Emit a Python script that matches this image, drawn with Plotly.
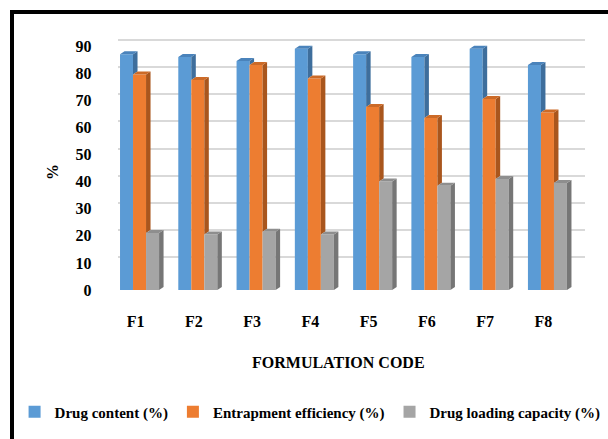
import plotly.graph_objects as go

# ---- data -------------------------------------------------------------
formulations = ["F1", "F2", "F3", "F4", "F5", "F6", "F7", "F8"]
drug_content = [87, 86, 84.5, 89, 87, 86, 89, 83]
entrapment_efficiency = [79.5, 77.5, 83, 78, 67.5, 63.5, 70.5, 65.5]
drug_loading_capacity = [21, 20.5, 21.5, 20.5, 40, 38.5, 41, 39.5]
series_names = ["Drug content (%)", "Entrapment efficiency (%)", "Drug loading capacity (%)"]
y_ticks = [0, 10, 20, 30, 40, 50, 60, 70, 80, 90]

# ---- styling ----------------------------------------------------------
W, H = 608, 439
FONT = "'Liberation Serif', 'Times New Roman', Times, serif"
front_colors = ["#5B9BD5", "#ED7D31", "#A5A5A5"]
side_colors = ["#3E6E9C", "#A9561D", "#767676"]
top_colors = ["#4A83BB", "#CC6A27", "#8E8E8E"]

series = [drug_content, entrapment_efficiency, drug_loading_capacity]
idx = list(range(len(formulations)))

# pixel layout of the front (bars) plane and the back wall (gridlines)
px_per_unit_y = 2.71
front_bottom, back_bottom = 290, 284
front_left, front_right = 110.4, 576.6
back_left, back_right = 118, 585
y_max = 95

def fx(p):
    return p / W

def fy(p):
    return 1 - p / H

px_per_cat = (front_right - front_left) / len(formulations)
bar_w = 0.67 / 3
depth_dx = 4.5 / px_per_cat          # side depth in category units
depth_dy = 3.0 / px_per_unit_y       # side depth in value units

fig = go.Figure()

# front faces
for k, (name, vals) in enumerate(zip(series_names, series)):
    fig.add_trace(go.Bar(
        x=idx, y=vals, name=name, width=bar_w, offset=-1.5 * bar_w + k * bar_w,
        marker=dict(color=front_colors[k], line=dict(width=0)),
        xaxis="x2", yaxis="y2", hoverinfo="skip",
    ))

# side and top faces (3-D depth)
for k, vals in enumerate(series):
    sx, sy, tx, ty = [], [], [], []
    off = -1.5 * bar_w + k * bar_w
    for i, v in enumerate(vals):
        xl = i + off
        xr = xl + bar_w
        lo = min(v, series[k + 1][i]) if k < len(series) - 1 else 0
        sx += [xr, xr + depth_dx, xr + depth_dx, xr, xr, None]
        sy += [lo, lo + depth_dy, v + depth_dy, v, lo, None]
        tx += [xl, xl + depth_dx, xr + depth_dx, xr, xl, None]
        ty += [v, v + depth_dy, v + depth_dy, v, v, None]
    for px_, py_, col in ((sx, sy, side_colors[k]), (tx, ty, top_colors[k])):
        fig.add_trace(go.Scatter(
            x=px_, y=py_, mode="lines", fill="toself", fillcolor=col,
            line=dict(width=0), xaxis="x2", yaxis="y2", showlegend=False,
            hoverinfo="skip", cliponaxis=False,
        ))

# perspective connectors on the left wall
cx, cy = [], []
drop = 9.5 / px_per_unit_y
for t in y_ticks:
    cx += [-0.5 - 12 / px_per_cat, -0.5, None]
    cy += [t - drop, t, None]
fig.add_trace(go.Scatter(
    x=cx, y=cy, mode="lines", line=dict(color="#D9D9D9", width=1.5),
    xaxis="x", yaxis="y", showlegend=False, hoverinfo="skip", cliponaxis=False,
))

axis_font = dict(family=FONT, size=16, color="black", weight="bold")

fig.update_layout(
    template="none",
    width=W, height=H,
    margin=dict(l=0, r=0, t=0, b=0),
    paper_bgcolor="white",
    plot_bgcolor="rgba(0,0,0,0)",
    barmode="overlay",
    font=dict(family=FONT, color="black"),
    # back wall with gridlines
    xaxis=dict(domain=[fx(back_left), fx(back_right)], range=[-0.5, 7.5],
               showgrid=False, zeroline=False, showticklabels=False,
               showline=False, ticks="", automargin=False, fixedrange=True),
    yaxis=dict(domain=[fy(back_bottom), fy(back_bottom - y_max * px_per_unit_y)],
               range=[0, y_max], tickvals=y_ticks, showgrid=True,
               gridcolor="#D9D9D9", gridwidth=1.8, zeroline=False,
               showticklabels=False, showline=False, ticks="",
               automargin=False, fixedrange=True),
    # front plane with bars and tick labels
    xaxis2=dict(domain=[fx(front_left), fx(front_right)], range=[-0.5, 7.5],
                tickvals=idx, ticktext=formulations, tickfont=axis_font,
                showgrid=False, zeroline=False, showline=False, ticks="",
                ticklabelstandoff=20, ticklabelshift=-4,
                automargin=False, fixedrange=True, anchor="y2"),
    yaxis2=dict(domain=[fy(front_bottom), fy(front_bottom - y_max * px_per_unit_y)],
                range=[0, y_max], tickvals=y_ticks, tickfont=axis_font,
                showgrid=False, zeroline=False, showline=False, ticks="",
                ticklabelstandoff=18, automargin=False, fixedrange=True,
                anchor="x2"),
    legend=dict(orientation="h", x=0.51, xanchor="center", y=fy(412),
                yanchor="middle", font=dict(family=FONT, size=15, weight="bold"),
                itemwidth=30, tracegroupgap=0, bgcolor="rgba(0,0,0,0)"),
    annotations=[
        dict(text="FORMULATION CODE", x=fx(338), y=fy(362), xref="paper",
             yref="paper", showarrow=False, xanchor="center", yanchor="middle",
             font=dict(family=FONT, size=16, weight="bold", color="black")),
        dict(text="%", x=fx(52), y=fy(172), xref="paper", yref="paper",
             showarrow=False, textangle=-90, xanchor="center", yanchor="middle",
             font=dict(family=FONT, size=16, weight="bold", color="black")),
    ],
    shapes=[
        dict(type="line", xref="paper", yref="paper", x0=fx(10), x1=1.0,
             y0=fy(12), y1=fy(12), line=dict(color="black", width=4)),
        dict(type="line", xref="paper", yref="paper", x0=fx(12), x1=fx(12),
             y0=fy(10), y1=0, line=dict(color="black", width=4)),
    ],
)

fig.write_html("out.html")
